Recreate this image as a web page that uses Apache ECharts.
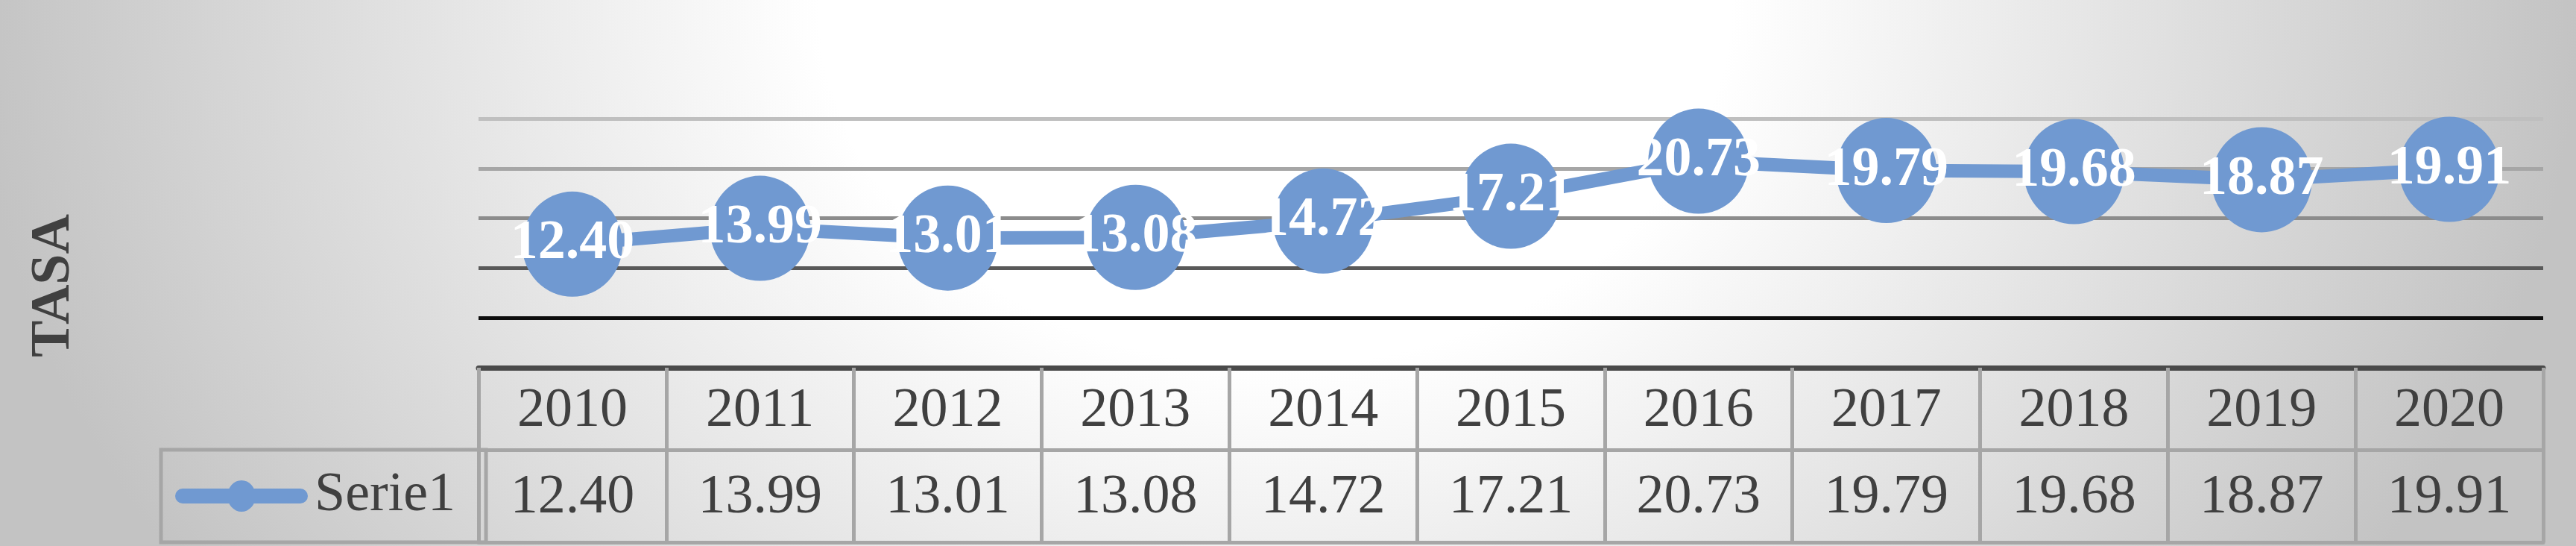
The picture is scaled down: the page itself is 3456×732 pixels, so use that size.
<!DOCTYPE html>
<html>
<head>
<meta charset="utf-8">
<title>TASA</title>
<script src="https://cdn.jsdelivr.net/npm/echarts@6/dist/echarts.min.js"></script>
<style>
    html, body {
        margin: 0;
        padding: 0;
    }
    #chart {
        width: 3456px;
        height: 732px;
        background: radial-gradient(ellipse 1750px 1400px at 1710px 0px, #ffffff 0%, #ffffff 35%, #c3c3c3 100%);
    }
</style>
</head>
<body>
<div id="chart"></div>
<script>
// datos
const years = ['2010', '2011', '2012', '2013', '2014', '2015', '2016', '2017', '2018', '2019', '2020'];
const serie1 = [12.40, 13.99, 13.01, 13.08, 14.72, 17.21, 20.73, 19.79, 19.68, 18.87, 19.91];
const seriesName = 'Serie1';
const axisTitle = 'TASA';

const blue = '#7099d1';
const textColor = '#404040';
const border = '#a6a6a6';
const font = 'Liberation Serif';

// icono de leyenda: línea gruesa con marcador
const legendIcon = 'path://M10,11 H168 A10,10 0 0 1 168,31 H10 A10,10 0 0 1 10,11 Z M89,0 A19,21 0 1 1 89,42 A19,21 0 1 1 89,0 Z';

let chart = echarts.init(document.getElementById('chart'));
let option = {
    backgroundColor: 'transparent',
    textStyle: {
        fontFamily: font
    },
    grid: {
        left: 642,
        right: 44,
        top: 159,
        bottom: 239,
        containLabel: false
    },
    legend: {
        data: [seriesName],
        icon: legendIcon,
        left: 216,
        top: 603,
        orient: 'horizontal',
        itemWidth: 178,
        itemHeight: 42,
        padding: [22, 41, 22, 19],
        borderColor: border,
        borderWidth: 5,
        textStyle: {
            fontFamily: font,
            fontSize: 74,
            lineHeight: 80,
            color: textColor,
            padding: [0, 0, 0, 4]
        }
    },
    xAxis: [
        {
            // fila de años
            type: 'category',
            data: years,
            position: 'bottom',
            axisLine: {
                lineStyle: { color: '#4a4a4a', width: 7 }
            },
            axisTick: {
                show: true,
                interval: 0,
                length: 234,
                lineStyle: { color: border, width: 5 }
            },
            axisLabel: {
                interval: 0,
                margin: 59,
                verticalAlign: 'middle',
                fontFamily: font,
                fontSize: 74,
                color: textColor
            },
            splitLine: { show: false }
        },
        {
            // fila de valores
            type: 'category',
            data: serie1.map(v => v.toFixed(2)),
            position: 'bottom',
            offset: 110,
            axisLine: {
                lineStyle: { color: border, width: 5 }
            },
            axisTick: { show: false },
            axisLabel: {
                interval: 0,
                margin: 65,
                verticalAlign: 'middle',
                fontFamily: font,
                fontSize: 74,
                color: textColor
            }
        },
        {
            // borde inferior
            type: 'category',
            data: years,
            position: 'bottom',
            offset: 234,
            axisLine: {
                lineStyle: { color: border, width: 5 }
            },
            axisTick: { show: false },
            axisLabel: { show: false }
        }
    ],
    yAxis: {
        type: 'value',
        min: 0,
        max: 25,
        interval: 5,
        name: axisTitle,
        nameLocation: 'middle',
        nameRotate: 90,
        nameGap: 532,
        nameTextStyle: {
            fontFamily: font,
            fontSize: 74,
            fontWeight: 'bold',
            color: textColor,
            padding: [0, 114, 0, 0]
        },
        axisLine: { show: false },
        axisTick: { show: false },
        axisLabel: { show: false },
        splitLine: {
            show: true,
            lineStyle: {
                width: 5,
                color: ['#4a4a4a', '#0d0d0d', '#595959', '#8c8c8c', '#a6a6a6', '#bfbfbf']
            }
        }
    },
    series: [
        {
            name: seriesName,
            type: 'line',
            data: serie1,
            symbol: 'circle',
            symbolSize: [135, 141],
            itemStyle: { color: blue },
            lineStyle: { color: blue, width: 18 },
            label: {
                show: true,
                position: 'inside',
                formatter: p => p.value.toFixed(2),
                fontFamily: font,
                fontSize: 74,
                fontWeight: 'bold',
                color: '#ffffff'
            },
            emphasis: { disabled: true },
            animation: false
        }
    ]
};
chart.setOption(option, (window.onresize = chart.resize));
</script>
</body>
</html>
